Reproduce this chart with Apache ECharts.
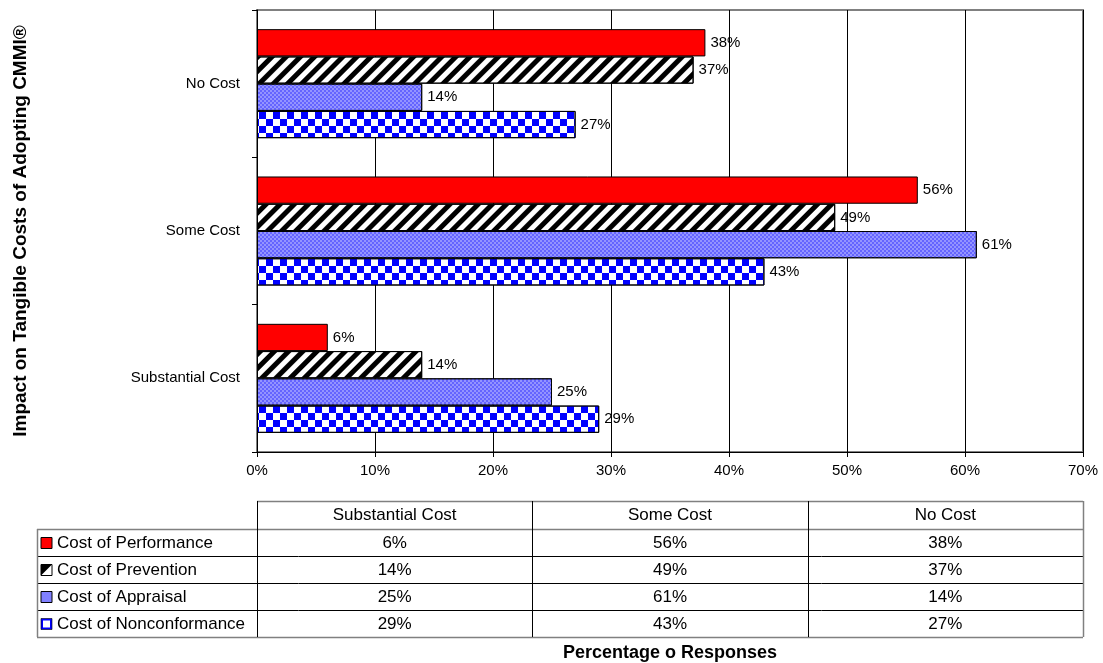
<!DOCTYPE html>
<html>
<head>
<meta charset="utf-8">
<title>Impact on Tangible Costs of Adopting CMMI®</title>
<script src="https://cdn.jsdelivr.net/npm/echarts@6/dist/echarts.min.js"></script>
<style>
  html, body { margin: 0; padding: 0; background: #fff; }
  #chart { width: 1103px; height: 663px; }
</style>
</head>
<body>
<div id="chart"></div>
<script>
// Response categories (bottom to top on the chart, left to right in the table)
const categories = ['Substantial Cost', 'Some Cost', 'No Cost'];

// Cost types, one series each
const seriesNames = ['Cost of Performance', 'Cost of Prevention', 'Cost of Appraisal', 'Cost of Nonconformance'];

// Percentage of responses per category
const performance    = [6, 56, 38];
const prevention     = [14, 49, 37];
const appraisal      = [25, 61, 14];
const nonconformance = [29, 43, 27];

// Value axis ticks (percent)
const xTicks = [0, 10, 20, 30, 40, 50, 60, 70];

const seriesValues = [performance, prevention, appraisal, nonconformance];

const FONT = 'Liberation Sans, Arial, sans-serif';
const GRID = { left: 257, top: 10, right: 20, bottom: 211 };
const W = 1103;

// Fill styles for each cost type
const styles = [
  { color: '#ff0000', borderColor: '#000', borderWidth: 1 },
  { color: '#ffffff', borderColor: '#000', borderWidth: 1,
    decal: { symbol: 'rect', symbolSize: 1, color: '#000', dashArrayX: [1, 0], dashArrayY: [4.3, 4.3], rotation: -Math.PI / 4 } },
  { color: '#9494ff', borderColor: '#000', borderWidth: 1,
    decal: { symbol: 'rect', symbolSize: 1, color: '#6464ff', dashArrayX: [[2, 2], [0, 2, 2, 0]], dashArrayY: [2, 0] } },
  { color: '#ffffff', borderColor: '#000', borderWidth: 1,
    decal: { symbol: 'rect', symbolSize: 1, color: '#0000ff', dashArrayX: [[7, 7], [0, 7, 7, 0]], dashArrayY: [7, 0] } }
];

// One bar series per cost type; the first one sits on top of each band
const series = seriesNames.map((name, i) => ({
  name,
  type: 'bar',
  data: seriesValues[i],
  itemStyle: styles[i],
  barGap: '0%',
  barCategoryGap: '26%',
  label: {
    show: true, position: 'right', distance: 5,
    formatter: '{c}%', color: '#000', fontSize: 15, fontFamily: FONT
  }
}));

// ---- Data table below the plot ----
function buildTable() {
  const g = [];
  const x0 = GRID.left, x3 = W - GRID.right;
  const colW = (x3 - x0) / categories.length;
  const legendLeft = 37;
  const top = 501, headH = 28, rowH = 27;
  const bottom = top + headH + rowH * seriesNames.length;
  const line = (x1, y1, x2, y2, c, w) => g.push({
    type: 'line', silent: true,
    shape: { x1, y1, x2, y2 }, style: { stroke: c || '#000', lineWidth: w || 1 }
  });
  const text = (x, y, t, align) => g.push({
    type: 'text', silent: true, x, y,
    style: { text: t, fill: '#000', font: '17px ' + FONT, textAlign: align || 'center', textVerticalAlign: 'middle' }
  });

  // header row
  categories.forEach((c, j) => text(x0 + colW * (j + 0.5), top + headH / 2 + 0.5, c));
  // body rows
  seriesNames.forEach((name, i) => {
    const yc = top + headH + rowH * (i + 0.5);
    text(57, yc + 1, name, 'left');
    seriesValues[i].forEach((v, j) => text(x0 + colW * (j + 0.5), yc + 0.5, v + '%'));
    // legend keys
    const kx = 41, ky = yc - 5, ks = 11;
    if (i === 0) {
      g.push({ type: 'rect', shape: { x: kx, y: ky, width: ks, height: ks }, style: { fill: '#ff0000', stroke: '#000', lineWidth: 1 } });
    } else if (i === 1) {
      g.push({ type: 'rect', shape: { x: kx, y: ky, width: ks, height: ks }, style: { fill: '#fff', stroke: '#000', lineWidth: 1 } });
      g.push({ type: 'polygon', shape: { points: [[kx, ky], [kx + ks, ky], [kx, ky + ks]] }, style: { fill: '#000' } });
    } else if (i === 2) {
      g.push({ type: 'rect', shape: { x: kx, y: ky, width: ks, height: ks }, style: { fill: '#8080ff', stroke: '#000', lineWidth: 1 } });
    } else {
      g.push({ type: 'rect', shape: { x: kx + 1, y: ky + 1, width: ks - 2, height: ks - 2 }, style: { fill: '#fff', stroke: '#0000ff', lineWidth: 2 } });
      g.push({ type: 'rect', shape: { x: kx, y: ky, width: ks, height: ks }, style: { fill: 'none', stroke: '#000', lineWidth: 0.6 } });
    }
  });

  // grid lines of the table
  line(x0, top + 0.5, x3, top + 0.5, '#808080', 1.5);
  for (let i = 1; i <= seriesNames.length; i++) {
    const y = top + headH + rowH * (i - 1) + 0.5;
    line(legendLeft, y, x3, y, i === 1 ? '#808080' : '#000', i === 1 ? 1.5 : 1);
  }
  line(legendLeft, bottom + 0.5, x3, bottom + 0.5, '#808080', 1.5);
  line(legendLeft + 0.5, top + headH, legendLeft + 0.5, bottom, '#808080', 1.5);
  for (let j = 0; j <= categories.length; j++) {
    const x = Math.round(x0 + colW * j) + 0.5;
    line(x, top, x, bottom, j === categories.length ? '#808080' : '#000', j === categories.length ? 1.5 : 1);
  }
  return g;
}

const chart = echarts.init(document.getElementById('chart'), null, { renderer: 'canvas' });
chart.setOption({
  backgroundColor: '#fff',
  animation: false,
  textStyle: { fontFamily: FONT },
  grid: {
    left: GRID.left, top: GRID.top, right: GRID.right, bottom: GRID.bottom,
    containLabel: false, outerBoundsMode: 'none',
    show: true, borderColor: '#808080', borderWidth: 2, backgroundColor: '#fff'
  },
  xAxis: {
    type: 'value',
    min: xTicks[0], max: xTicks[xTicks.length - 1], interval: xTicks[1] - xTicks[0],
    name: 'Percentage o Responses',
    nameLocation: 'middle', nameGap: 192,
    nameTextStyle: { fontSize: 18, fontWeight: 'bold', color: '#000', fontFamily: FONT },
    axisLine: { show: true, lineStyle: { color: '#000', width: 1 } },
    axisTick: { show: true, length: 5, lineStyle: { color: '#000' } },
    axisLabel: { formatter: '{value}%', color: '#000', fontSize: 15, margin: 11, fontFamily: FONT },
    splitLine: { show: true, lineStyle: { color: '#000', width: 1 } }
  },
  yAxis: {
    type: 'category',
    data: categories,
    name: 'Impact on Tangible Costs of Adopting CMMI®',
    nameLocation: 'middle', nameRotate: 90, nameGap: 227,
    nameTextStyle: { fontSize: 19, fontWeight: 'bold', color: '#000', fontFamily: FONT },
    axisLine: { show: true, lineStyle: { color: '#000', width: 1 } },
    axisTick: { show: true, length: 5, lineStyle: { color: '#000' } },
    axisLabel: { color: '#000', fontSize: 15, margin: 17, fontFamily: FONT },
    splitLine: { show: false }
  },
  series,
  graphic: buildTable()
});
</script>
</body>
</html>
